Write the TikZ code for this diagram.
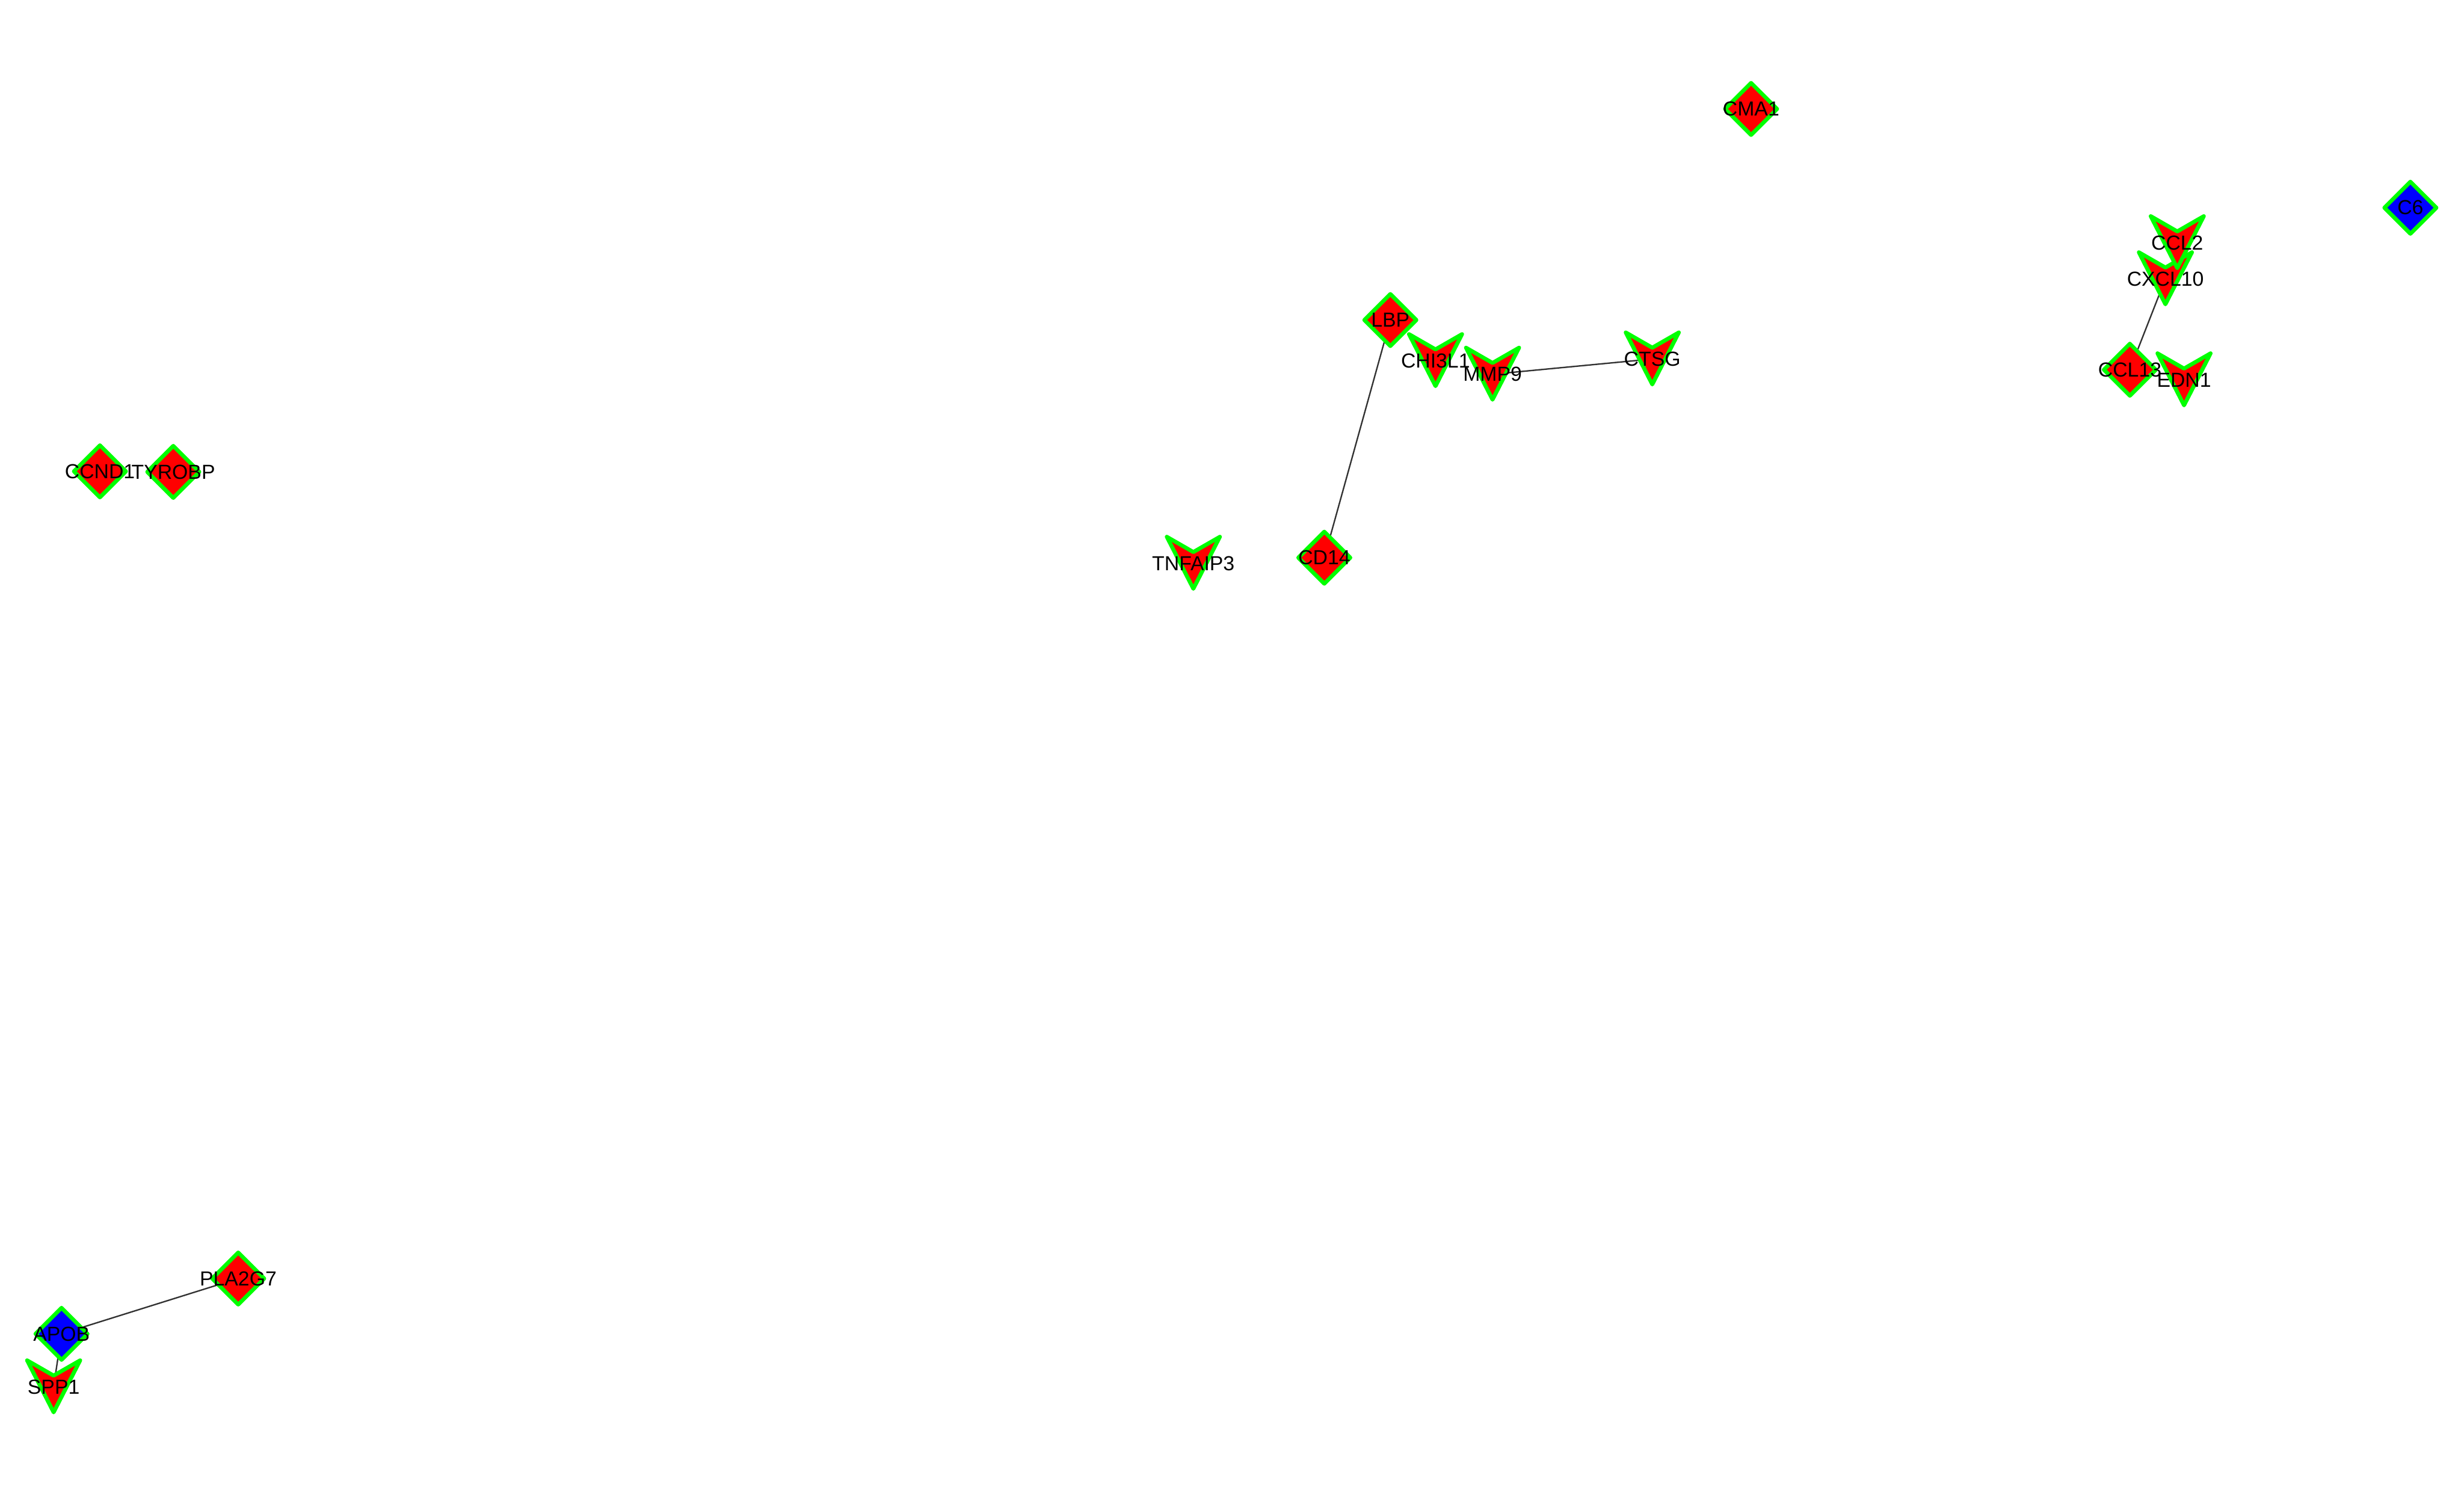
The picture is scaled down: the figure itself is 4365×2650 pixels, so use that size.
\documentclass[tikz,border=0pt]{standalone}
\usepackage{fontspec}
\setmainfont{Liberation Sans}
\usetikzlibrary{shapes.geometric}
\definecolor{rimgreen}{RGB}{0,255,0}
\definecolor{fadegreen}{RGB}{85,255,85}
\definecolor{edgegray}{RGB}{50,50,50}

\begin{document}
\begin{tikzpicture}[x=1pt,y=-1pt,font={\fontsize{36}{40}\selectfont},
  dia/.style={shape=diamond,draw=rimgreen,fill=red,line width=7pt,line join=round,
    minimum width=95pt,minimum height=95pt,inner sep=0pt},
  vpath/.style={draw=rimgreen,fill=red,line width=7pt,line join=round},
  vee/.pic={\path[vpath,pic actions] (-47,-47) -- (0,-20) -- (47,-47) -- (0,45) -- cycle;},
  lab/.style={inner sep=0pt,text=black},
  edge/.style={draw=edgegray,line width=2.5pt}]
  \useasboundingbox[fill=white] (0,0) rectangle (4365,2650);
  % gene positions
  \coordinate (cma) at (3102,193);
  \coordinate (csix) at (4270,368);
  \coordinate (ccltwo) at (3857,430);
  \coordinate (cxcl) at (3836,494);
  \coordinate (ccl) at (3773,655);
  \coordinate (edn) at (3869,673);
  \coordinate (lbp) at (2463,567);
  \coordinate (chi) at (2543,639);
  \coordinate (mmp) at (2644,663);
  \coordinate (ctsg) at (2927,636);
  \coordinate (tnf) at (2114,998);
  \coordinate (cd) at (2346,988);
  \coordinate (ccnd) at (177,835);
  \coordinate (tyro) at (307,836);
  \coordinate (pla) at (422,2265);
  \coordinate (apob) at (109,2363);
  \coordinate (spp) at (95,2457);
  % interactions
  \draw[edge](lbp)--(cd);\draw[edge](mmp)--(ctsg);\draw[edge](cxcl)--(ccl);
  \draw[edge](apob)--(pla);\draw[edge](apob)--(spp);
  % shapes
  \node[dia] at (cma) {};
  \node[dia,fill=blue] at (csix) {};
  \pic[draw=fadegreen] at (cxcl) {vee};
  \pic at (ccltwo) {vee};
  \node[dia] at (ccl) {};
  \pic at (edn) {vee};
  \node[dia] at (lbp) {};
  \pic at (chi) {vee};
  \pic at (mmp) {vee};
  \pic at (ctsg) {vee};
  \pic at (tnf) {vee};
  \node[dia] at (cd) {};
  \node[dia] at (ccnd) {};
  \node[dia] at (tyro) {};
  \node[dia] at (pla) {};
  \node[dia,fill=blue] at (apob) {};
  \pic at (spp) {vee};
  % labels
  \node[lab] at (cma) {CMA1};
  \node[lab] at (csix) {C6};
  \node[lab] at (cxcl) {CXCL10};
  \node[lab] at (ccltwo) {CCL2};
  \node[lab] at (ccl) {CCL13};
  \node[lab] at (edn) {EDN1};
  \node[lab] at (lbp) {LBP};
  \node[lab] at (chi) {CHI3L1};
  \node[lab] at (mmp) {MMP9};
  \node[lab] at (ctsg) {CTSG};
  \node[lab] at (tnf) {TNFAIP3};
  \node[lab] at (cd) {CD14};
  \node[lab] at (ccnd) {CCND1};
  \node[lab] at (tyro) {TYROBP};
  \node[lab] at (pla) {PLA2G7};
  \node[lab] at (apob) {APOB};
  \node[lab] at (spp) {SPP1};
\end{tikzpicture}
\end{document}
